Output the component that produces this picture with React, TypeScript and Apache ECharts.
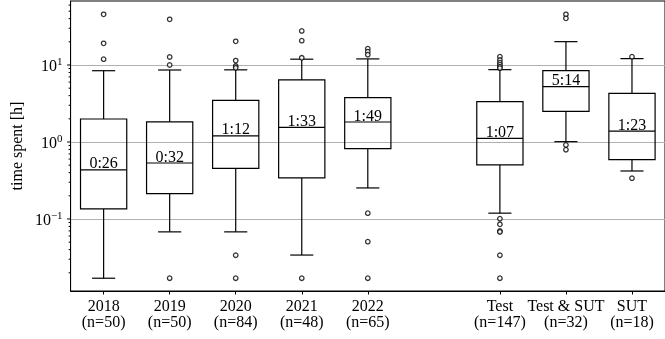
import React, { useEffect, useRef } from "react";
import * as echarts from "echarts";

const categories = [
  "2018\n(n=50)",
  "2019\n(n=50)",
  "2020\n(n=84)",
  "2021\n(n=48)",
  "2022\n(n=65)",
  "",
  "Test\n(n=147)",
  "Test & SUT\n(n=32)",
  "SUT\n(n=18)",
];
// per category index (gap at index 5 has no box)
const boxIndex = [0, 1, 2, 3, 4, 6, 7, 8];
const whiskerLow = [0.017, 0.068, 0.068, 0.034, 0.253, 0.119, 1.01, 0.42];
const q1 = [0.135, 0.213, 0.455, 0.341, 0.818, 0.503, 2.5, 0.589];
const median = [0.4333, 0.5333, 1.2, 1.55, 1.8167, 1.1167, 5.2333, 1.3833];
const q3 = [1.99, 1.82, 3.48, 6.39, 3.76, 3.34, 8.43, 4.29];
const whiskerHigh = [8.43, 8.61, 8.65, 11.9, 12.0, 8.7, 20.1, 12.1];
const medianLabels = ["0:26", "0:32", "1:12", "1:33", "1:49", "1:07", "5:14", "1:23"];
const outliers: number[][] = [
  [45.5, 19.1, 11.9],
  [39.2, 12.7, 10.0, 0.017],
  [20.3, 11.4, 9.7, 9.2, 0.0338, 0.017],
  [27.7, 20.7, 12.4, 0.017],
  [16.3, 14.9, 13.6, 0.119, 0.0507, 0.017],
  [12.8, 11.6, 10.7, 10.1, 9.5, 9.1, 0.101, 0.0853, 0.0699, 0.0678, 0.0338, 0.017],
  [45.5, 40.4, 0.914, 0.794],
  [12.8, 0.338],
];
const yMajorTicks = [0.1, 1, 10];
const yMinorTicks = [
  0.02, 0.03, 0.04, 0.05, 0.06, 0.07, 0.08, 0.09,
  0.2, 0.3, 0.4, 0.5, 0.6, 0.7, 0.8, 0.9,
  2, 3, 4, 5, 6, 7, 8, 9,
  20, 30, 40, 50, 60,
];
const yMin = 0.0116;
const yMax = 67.8;

const FONT = "Liberation Serif";

export default function App() {
  const ref = useRef<HTMLDivElement>(null);
  useEffect(() => {
    if (!ref.current) return;
    const chart = echarts.init(ref.current, undefined, { renderer: "svg" });

    const boxData = boxIndex.map((ci, k) => [
      ci,
      whiskerLow[k],
      q1[k],
      median[k],
      q3[k],
      whiskerHigh[k],
      k,
    ]);
    const outlierData: number[][] = [];
    boxIndex.forEach((ci, k) => {
      outliers[k].forEach((v) => outlierData.push([ci, v]));
    });
    const tickData = [
      ...yMajorTicks.map((v) => [0, v, 3.5]),
      ...yMinorTicks.map((v) => [0, v, 2]),
    ];

    const isDecade = (v: number) => {
      const l = Math.log10(v);
      return Math.abs(l - Math.round(l)) < 1e-6;
    };

    const option: any = {
      animation: false,
      grid: {
        left: 69,
        right: -7,
        top: 1,
        bottom: 48,
        show: true,
        borderColor: "#000",
        borderWidth: 1,
        backgroundColor: "transparent",
      },
      xAxis: {
        type: "category",
        data: categories,
        boundaryGap: true,
        axisLine: { show: true, lineStyle: { color: "#000", width: 1 } },
        axisTick: {
          show: true,
          alignWithLabel: true,
          length: 3.5,
          interval: (_i: number, v: string) => v !== "",
          lineStyle: { color: "#000" },
        },
        axisLabel: {
          interval: 0,
          color: "#000",
          fontFamily: FONT,
          fontSize: 16,
          lineHeight: 16,
          margin: 6,
        },
        splitLine: { show: false },
      },
      yAxis: {
        type: "log",
        logBase: 10,
        min: yMin,
        max: yMax,
        name: "time spent [h]",
        nameLocation: "middle",
        nameGap: 46,
        nameTextStyle: { color: "#000", fontFamily: FONT, fontSize: 16 },
        axisLine: { show: true, lineStyle: { color: "#000", width: 1 } },
        axisTick: { show: false },
        minorTick: { show: false },
        axisLabel: {
          showMinLabel: false,
          showMaxLabel: false,
          margin: 8,
          formatter: (v: number) => {
            if (!isDecade(v)) return "";
            const e = Math.round(Math.log10(v));
            const s = e < 0 ? "\u2212" + -e : String(e);
            return "{b|10}{s|" + s + "}";
          },
          rich: {
            b: { fontFamily: FONT, fontSize: 16, color: "#000", lineHeight: 18, verticalAlign: "bottom" },
            s: { fontFamily: FONT, fontSize: 11, color: "#000", lineHeight: 18, verticalAlign: "top", padding: [0, 0, 6, 0] },
          },
        },
        splitLine: {
          show: true,
          showMinLine: false,
          showMaxLine: false,
          lineStyle: { color: "#b0b0b0", width: 1 },
        },
      },
      series: [
        {
          type: "custom",
          name: "boxes",
          data: boxData,
          clip: false,
          renderItem: (params: any, api: any) => {
            const ci = api.value(0);
            const pLow = api.coord([ci, api.value(1)]);
            const pQ1 = api.coord([ci, api.value(2)]);
            const pMed = api.coord([ci, api.value(3)]);
            const pQ3 = api.coord([ci, api.value(4)]);
            const pHigh = api.coord([ci, api.value(5)]);
            const k = api.value(6);
            const band = api.size([1, 1])[0];
            const w = band * 0.7;
            const cx = pMed[0];
            const ls = { stroke: "#000", lineWidth: 1.2, fill: null };
            return {
              type: "group",
              children: [
                { type: "line", shape: { x1: cx, y1: pQ1[1], x2: cx, y2: pLow[1] }, style: ls },
                { type: "line", shape: { x1: cx, y1: pQ3[1], x2: cx, y2: pHigh[1] }, style: ls },
                { type: "line", shape: { x1: cx - w / 4, y1: pLow[1], x2: cx + w / 4, y2: pLow[1] }, style: ls },
                { type: "line", shape: { x1: cx - w / 4, y1: pHigh[1], x2: cx + w / 4, y2: pHigh[1] }, style: ls },
                {
                  type: "rect",
                  shape: { x: cx - w / 2, y: pQ3[1], width: w, height: pQ1[1] - pQ3[1] },
                  style: { stroke: "#000", lineWidth: 1.2, fill: "none" },
                },
                { type: "line", shape: { x1: cx - w / 2, y1: pMed[1], x2: cx + w / 2, y2: pMed[1] }, style: ls },
                {
                  type: "text",
                  x: cx,
                  y: pMed[1] + 1,
                  style: {
                    text: medianLabels[k],
                    fill: "#000",
                    fontFamily: FONT,
                    fontSize: 16,
                    align: "center",
                    verticalAlign: "bottom",
                  },
                },
              ],
            };
          },
          z: 3,
        },
        {
          type: "scatter",
          name: "outliers",
          data: outlierData,
          symbol: "circle",
          symbolSize: 4.5,
          itemStyle: { color: "#fff", borderColor: "#000", borderWidth: 1.3 },
          z: 4,
        },
        {
          type: "custom",
          name: "y ticks",
          data: tickData,
          clip: false,
          silent: true,
          renderItem: (params: any, api: any) => {
            const p = api.coord([0, api.value(1)]);
            const len = api.value(2);
            const x0 = params.coordSys.x;
            return {
              type: "line",
              shape: { x1: x0 - len, y1: p[1], x2: x0, y2: p[1] },
              style: { stroke: "#000", lineWidth: 1 },
            };
          },
          z: 5,
        },
      ],
    };
    chart.setOption(option);
    return () => chart.dispose();
  }, []);
  return (
    <div
      ref={ref}
      style={{ position: "fixed", left: 0, top: 0, width: 665, height: 339 }}
    />
  );
}
